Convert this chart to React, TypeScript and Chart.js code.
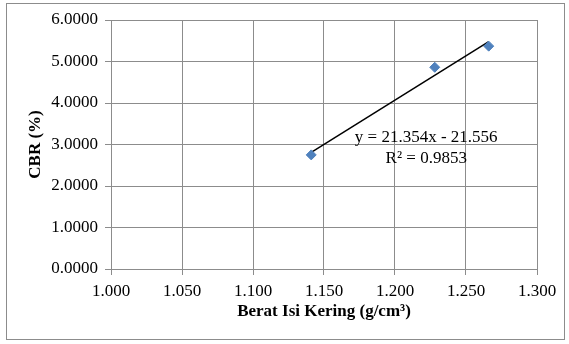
import React, { useEffect, useRef } from "react";
import { Chart, registerables } from "chart.js";

Chart.register(...registerables);

const beratIsiKering = [1.141, 1.228, 1.266];
const cbrValues = [2.75, 4.86, 5.37];
const trendSlope = 21.354;
const trendIntercept = -21.556;
const equationLines = ["y = 21.354x - 21.556", "R² = 0.9853"];

const SERIF = "'Liberation Serif', 'Times New Roman', serif";

export default function App() {
  const ref = useRef<HTMLCanvasElement | null>(null);

  useEffect(() => {
    if (!ref.current) return;
    const xMin = Math.min(...beratIsiKering);
    const xMax = Math.max(...beratIsiKering);
    const trendData = [xMin, xMax].map((x) => ({ x, y: trendSlope * x + trendIntercept }));

    const eqPlugin = {
      id: "eqText",
      afterDatasetsDraw(chart: any) {
        const { ctx, scales } = chart;
        ctx.save();
        ctx.font = `17px ${SERIF}`;
        ctx.fillStyle = "#000";
        ctx.textAlign = "center";
        ctx.textBaseline = "middle";
        const cx = scales.x.getPixelForValue(1.222);
        ctx.fillText(equationLines[0], cx, scales.y.getPixelForValue(3.16));
        ctx.fillText(equationLines[1], cx, scales.y.getPixelForValue(2.65));
        ctx.restore();
      },
    };

    const chart = new Chart(ref.current, {
      type: "scatter",
      data: {
        datasets: [
          {
            type: "scatter",
            data: beratIsiKering.map((x, i) => ({ x, y: cbrValues[i] })),
            pointStyle: "rectRot",
            pointRadius: 5,
            backgroundColor: "#4f81bd",
            borderColor: "#4f81bd",
            borderWidth: 1,
            order: 1,
          },
          {
            type: "line",
            data: trendData,
            borderColor: "#000",
            borderWidth: 1.5,
            pointRadius: 0,
            showLine: true,
            fill: false,
            order: 2,
          } as any,
        ],
      },
      options: {
        animation: false,
        responsive: false,
        maintainAspectRatio: false,
        layout: { padding: { left: 0, top: 20, right: 32, bottom: 0 } },
        plugins: { legend: { display: false }, tooltip: { enabled: false } },
        scales: {
          x: {
            type: "linear",
            min: 1.0,
            max: 1.3,
            afterFit: (s: any) => {
              s.height = 75;
            },
            ticks: {
              stepSize: 0.05,
              padding: 6,
              color: "#000",
              font: { family: SERIF, size: 17 },
              callback: (v: any) => Number(v).toFixed(3),
            },
            grid: { color: "#8c8c8c", lineWidth: 1, tickLength: 6 },
            border: { color: "#8c8c8c" },
            title: {
              display: true,
              text: "Berat Isi Kering (g/cm³)",
              color: "#000",
              font: { family: SERIF, size: 17, weight: "bold" },
              padding: { top: 0, bottom: 22 },
            },
          },
          y: {
            type: "linear",
            min: 0,
            max: 6,
            afterFit: (s: any) => {
              s.width = 111;
            },
            ticks: {
              stepSize: 1,
              padding: 7,
              color: "#000",
              font: { family: SERIF, size: 17 },
              callback: (v: any) => Number(v).toFixed(4),
            },
            grid: { color: "#8c8c8c", lineWidth: 1, tickLength: 6 },
            border: { color: "#8c8c8c" },
            title: {
              display: true,
              text: "CBR (%)",
              color: "#000",
              font: { family: SERIF, size: 17, weight: "bold" },
              padding: { top: 25, bottom: 0 },
            },
          },
        },
      },
      plugins: [eqPlugin],
    });
    return () => chart.destroy();
  }, []);

  return (
    <div style={{ position: "fixed", left: 0, top: 0, width: 569, height: 344, background: "#fff" }}>
      <div
        style={{
          position: "absolute",
          left: 6,
          top: 3,
          width: 559,
          height: 337,
          border: "1px solid #8c8c8c",
          boxSizing: "border-box",
        }}
      />
      <canvas ref={ref} width={569} height={344} style={{ position: "absolute", left: 0, top: 0 }} />
    </div>
  );
}
